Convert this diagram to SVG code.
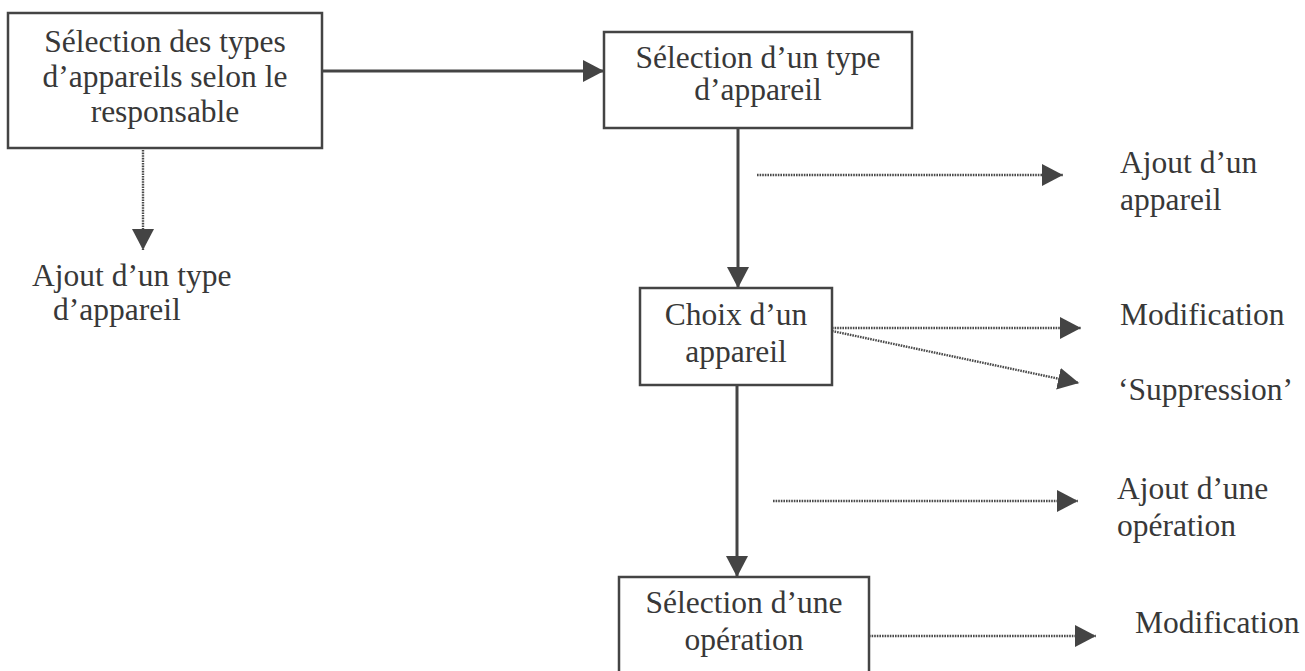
<svg xmlns="http://www.w3.org/2000/svg" width="1305" height="671" viewBox="0 0 1305 671">
<style>
.box{fill:#fff;stroke:#444;stroke-width:2.5}
.t{font-family:"Liberation Serif","Times New Roman",serif;font-size:31.5px;fill:#383838}
.c{text-anchor:middle}
.solid{fill:none;stroke:#444;stroke-width:3}
.dot{fill:none;stroke:#4a4a4a;stroke-width:2.4;stroke-dasharray:1.6 1}
</style>
<defs>
<marker id="ah" markerUnits="userSpaceOnUse" markerWidth="22" markerHeight="22" refX="21" refY="11" orient="auto" viewBox="0 0 22 22">
<path d="M0,0 L21,11 L0,22 z" fill="#444"/>
</marker>
</defs>
<rect width="1305" height="671" fill="#fff"/>
<g id="connectors">
<line class="solid" x1="322" y1="71" x2="604" y2="71" marker-end="url(#ah)"/>
<line class="dot" x1="143" y1="150" x2="143" y2="250" marker-end="url(#ah)"/>
<line class="solid" x1="738" y1="128" x2="738" y2="288" marker-end="url(#ah)"/>
<line class="dot" x1="757" y1="175" x2="1063" y2="175" marker-end="url(#ah)"/>
<line class="dot" x1="832" y1="328" x2="1081" y2="328" marker-end="url(#ah)"/>
<line class="dot" x1="832" y1="331" x2="1079" y2="383" marker-end="url(#ah)"/>
<line class="solid" x1="737" y1="385" x2="737" y2="577" marker-end="url(#ah)"/>
<line class="dot" x1="773" y1="501" x2="1078" y2="501" marker-end="url(#ah)"/>
<line class="dot" x1="869" y1="636" x2="1096" y2="636" marker-end="url(#ah)"/>
</g>
<g id="n1">
<rect class="box" x="8" y="13" width="314" height="135"/>
<text class="t c" x="165" y="52">Sélection des types</text>
<text class="t c" x="165" y="87">d’appareils selon le</text>
<text class="t c" x="165" y="122">responsable</text>
</g>
<g id="n2">
<rect class="box" x="604" y="32" width="308" height="96"/>
<text class="t c" x="758" y="68">Sélection d’un type</text>
<text class="t c" x="758" y="100">d’appareil</text>
</g>
<g id="n3">
<rect class="box" x="640" y="288" width="192" height="97"/>
<text class="t c" x="736" y="325">Choix d’un</text>
<text class="t c" x="736" y="362">appareil</text>
</g>
<g id="n4">
<rect class="box" x="619" y="577" width="250" height="100"/>
<text class="t c" x="744" y="613">Sélection d’une</text>
<text class="t c" x="744" y="650">opération</text>
</g>
<g id="l1">
<text class="t" x="32" y="286">Ajout d’un type</text>
<text class="t" x="53" y="320">d’appareil</text>
</g>
<g id="l2">
<text class="t" x="1120" y="173">Ajout d’un</text>
<text class="t" x="1120" y="210">appareil</text>
</g>
<g id="l3">
<text class="t" x="1120" y="325">Modification</text>
</g>
<g id="l4">
<text class="t" x="1118" y="400">‘Suppression’</text>
</g>
<g id="l5">
<text class="t" x="1117" y="499">Ajout d’une</text>
<text class="t" x="1117" y="536">opération</text>
</g>
<g id="l6">
<text class="t" x="1135" y="633">Modification</text>
</g>
</svg>
